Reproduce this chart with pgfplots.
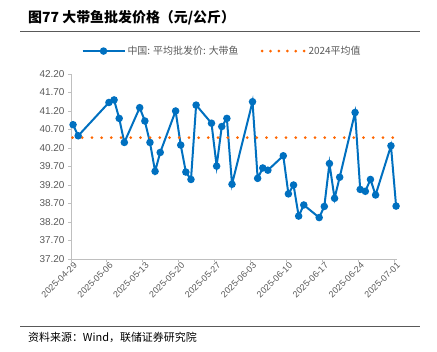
\documentclass[border=0pt]{standalone}
\usepackage{pgfplots}
\pgfplotsset{compat=1.18}
\usepackage{fontspec}
\setmainfont{Liberation Sans}
\newfontfamily\cjk{Noto Sans CJK SC}
\definecolor{sblue}{RGB}{0,112,192}
\definecolor{sorange}{RGB}{255,102,0}
\definecolor{tgray}{RGB}{89,89,89}
\definecolor{agray}{RGB}{191,191,191}
\begin{document}
\begin{tikzpicture}
\path[use as bounding box] (0,0) rectangle (437bp,352bp);
\node[anchor=west,inner sep=0pt] at (28bp,334bp) {\cjk\bfseries\fontsize{14}{16}\selectfont 图77 大带鱼批发价格（元/公斤）};
\draw[color=tgray,line width=0.8bp] (20bp,321bp) -- (420bp,321bp);
\draw[color=tgray,line width=0.8bp] (20bp,26bp) -- (420bp,26bp);
\node[anchor=west,inner sep=0pt] at (28bp,15bp) {\cjk\fontsize{11}{13}\selectfont 资料来源：Wind，联储证券研究院};
\begin{axis}[
  at={(71bp,93bp)}, anchor=south west,
  scale only axis,
  width=325.6bp, height=185bp,
  xmin=0, xmax=63.5,
  ymin=37.2, ymax=42.2,
  axis x line*=bottom, axis y line*=left,
  axis line style={color=agray,line width=0.8bp},
  every outer x axis line/.append style={-},
  every outer y axis line/.append style={-},
  xtick={0,7,...,63},
  xticklabels={2025-04-29,2025-05-06,2025-05-13,2025-05-20,2025-05-27,2025-06-03,2025-06-10,2025-06-17,2025-06-24,2025-07-01},
  xticklabel style={rotate=45,anchor=north east,font=\fontsize{9}{10}\selectfont,text=tgray,inner sep=1bp,xshift=3bp},
  ytick={37.2,37.7,38.2,38.7,39.2,39.7,40.2,40.7,41.2,41.7,42.2},
  yticklabel style={font=\fontsize{10}{12}\selectfont,text=tgray,
    /pgf/number format/fixed,/pgf/number format/fixed zerofill,
    /pgf/number format/precision=2,/pgf/number format/assume math mode=true},
  major tick length=3bp,
  tick style={color=agray,line width=0.8bp},
  xtick align=outside, ytick align=outside,
  clip=false,
  legend columns=2,
  legend style={at={(0.464,1.124)},anchor=center,draw=none,fill=none,
    font=\cjk\fontsize{10}{11}\selectfont,text=tgray,
    /tikz/every even column/.append style={column sep=20bp}},
]
\addplot[color=sblue,line width=2bp,mark=*,mark size=2.7bp,mark options={fill=sblue,draw=sblue},
  legend image code/.code={\draw[color=sblue,line width=2bp] (0bp,0bp) -- (42bp,0bp); \fill[sblue] (21bp,0bp) circle (2.7bp);}]
coordinates {
(0.4,40.83) (1.4,40.53)
(7.4,41.43) (8.4,41.50) (9.4,41.00) (10.4,40.35)
(13.4,41.29) (14.4,40.93) (15.4,40.35) (16.4,39.57) (17.4,40.08)
(20.4,41.20) (21.4,40.28) (22.4,39.55) (23.4,39.35) (24.4,41.36)
(27.4,40.87) (28.4,39.71) (29.4,40.78) (30.4,41.00) (31.4,39.22)
(35.4,41.45) (36.4,39.38) (37.4,39.66) (38.4,39.60)
(41.4,39.99) (42.4,38.96) (43.4,39.20) (44.4,38.36) (45.4,38.66)
(48.4,38.32) (49.4,38.62) (50.4,39.78) (51.4,38.84) (52.4,39.41)
(55.4,41.16) (56.4,39.08) (57.4,39.03) (58.4,39.35) (59.4,38.93)
(62.4,40.26) (63.4,38.63)
};
\addlegendentry{中国: 平均批发价: 大带鱼}
\addplot[color=sorange,line width=3bp,line cap=round,dash pattern=on 0bp off 9.7bp,
  legend image code/.code={\draw[color=sorange,line width=3bp,line cap=round,dash pattern=on 0bp off 8.4bp] (0bp,0bp) -- (43bp,0bp);}]
coordinates {(0.3,40.48) (63,40.48)};
\addlegendentry{2024平均值}
\end{axis}
\end{tikzpicture}
\end{document}
